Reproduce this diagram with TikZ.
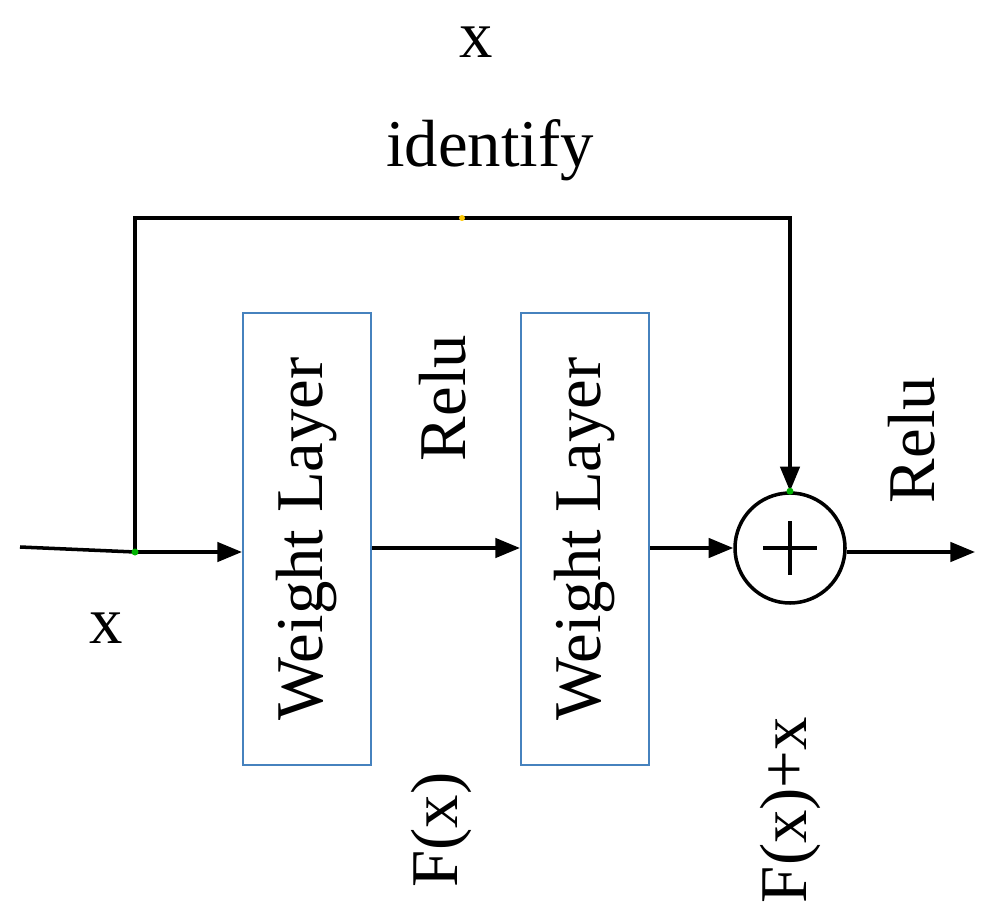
\documentclass[tikz,border=0pt]{standalone}
\usepackage{fontspec}
\setmainfont{Liberation Serif}
\usetikzlibrary{arrows.meta}
\begin{document}
\begin{tikzpicture}[x=0.02cm,y=-0.02cm,
  box/.style={draw={rgb,255:red,70;green,130;blue,190},line width=1.2pt,minimum width=128*0.02cm,minimum height=452*0.02cm,inner sep=0},
  ln/.style={line width=2pt},
  arr/.style={ln,-{Triangle[length=14pt,width=11pt]}},
  txt/.style={font=\fontsize{38}{44}\selectfont,inner sep=0}]
\useasboundingbox (0,0) rectangle (999,911);
\node[box] (b1) at (307,539) {};
\node[box] (b2) at (585,539) {};
\node[txt,rotate=90] at (b1) {Weight Layer};
\node[txt,rotate=90] at (b2) {Weight Layer};
\node[draw,circle,ln,minimum size=110*0.02cm,inner sep=0] (sum) at (790,548) {};
\draw[ln] ([yshift=-0.6cm]sum.north) -- ([yshift=0.6cm]sum.south);
\draw[ln] ([xshift=0.6cm]sum.west) -- ([xshift=-0.6cm]sum.east);
\coordinate (in) at (20,547);
\coordinate (sp) at (135,552);
\coordinate (out) at (975,552);
\coordinate (tl) at (135,218);
\coordinate (tr) at (790,218);
\draw[ln] (in) -- (sp);
\draw[arr] (sp) -- (b1.west |- 0,552);
\draw[arr] (b1.east |- 0,548) -- (b2.west |- 0,548);
\draw[arr] (b2.east |- 0,548) -- (sum.west);
\draw[arr] (sum.east |- 0,552) -- (out);
\draw[arr] (sp) -- (tl) -- (tr) -- (sum.north);
\fill[green!70!black] (sp) circle (3.5);
\fill[green!70!black] (sum.north) circle (3.5);
\fill[yellow!60!orange] (462,218) circle (3);
\node[txt] at (476,42) {x};
\node[txt] at (490,150) {identify};
\node[txt] at (106,628) {x};
\node[txt,rotate=90] at (443,398) {Relu};
\node[txt,rotate=90] at (912,440) {Relu};
\node[txt,rotate=90] at (441,830) {F(x)};
\node[txt,rotate=90] at (790,810) {F(x)+x};
\end{tikzpicture}
\end{document}
